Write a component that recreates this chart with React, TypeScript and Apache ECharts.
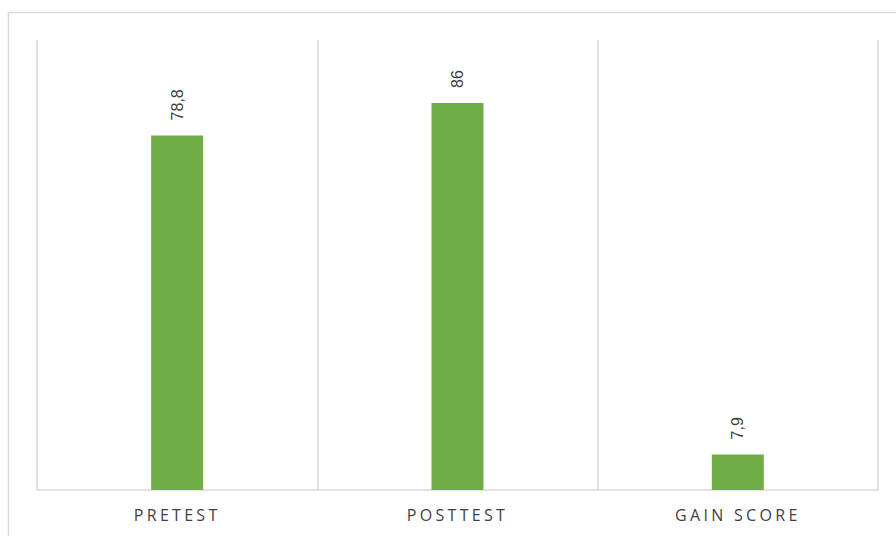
import React, { useEffect, useRef } from "react";
import * as echarts from "echarts";

// Test scores
const categories = ["PRETEST", "POSTTEST", "GAIN SCORE"];
const scores = [78.8, 86, 7.9];

const BAR_COLOR = "#70ad47";
const LINE_COLOR = "#d9d9d9";
const CATEGORY_COLOR = "#3f3f3f";

export default function App() {
  const ref = useRef<HTMLDivElement>(null);

  useEffect(() => {
    if (!ref.current) return;
    const chart = echarts.init(ref.current, null, { renderer: "svg" });
    chart.setOption({
      animation: false,
      backgroundColor: "#ffffff",
      grid: { left: 37, right: 18, top: 40, bottom: 46 },
      graphic: [
        {
          type: "rect",
          shape: { x: 8.5, y: 12.5, width: 900, height: 600 },
          style: { fill: "none", stroke: LINE_COLOR, lineWidth: 1.5 },
          silent: true,
        },
      ],
      xAxis: {
        type: "category",
        data: categories,
        axisLine: { show: true, lineStyle: { color: LINE_COLOR, width: 1.5 } },
        axisTick: { show: false },
        splitLine: { show: true, lineStyle: { color: LINE_COLOR, width: 1.5 } },
        axisLabel: {
          color: CATEGORY_COLOR,
          fontFamily: "Open Sans",
          fontWeight: 500,
          fontSize: 16,
          margin: 17,
        },
      },
      yAxis: {
        type: "value",
        min: 0,
        max: 100,
        show: false,
        splitLine: { show: false },
      },
      series: [
        {
          type: "bar",
          data: scores,
          barWidth: 52,
          itemStyle: { color: BAR_COLOR },
          label: {
            show: true,
            position: "top",
            rotate: 90,
            align: "left",
            verticalAlign: "middle",
            distance: 15,
            color: "#404040",
            fontFamily: "Liberation Sans",
            fontSize: 16,
            formatter: (p: any) => String(p.value).replace(".", ","),
          },
        },
      ],
    });
    return () => chart.dispose();
  }, []);

  return (
    <>
      <style>{`.score-chart text[fill="${CATEGORY_COLOR}"] { letter-spacing: 3.3px; }`}</style>
      <div
        ref={ref}
        className="score-chart"
        style={{ position: "fixed", left: 0, top: 0, width: 896, height: 536 }}
      />
    </>
  );
}
